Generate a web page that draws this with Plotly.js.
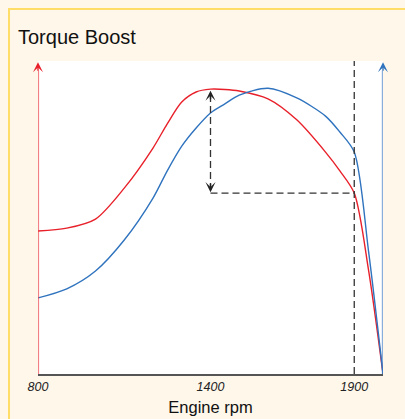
<!DOCTYPE html>
<html>
<head>
<meta charset="utf-8">
<script src="https://cdn.plot.ly/plotly-3.0.1.min.js"></script>
<style>html,body{margin:0;padding:0;background:#FEF7EA;}#chart{width:405px;height:419px;}</style>
</head>
<body>
<div id="chart"></div>
<script>
// Data
const rpm    = [800, 900, 1000, 1100, 1200, 1250, 1300, 1350, 1400, 1450, 1500, 1600, 1700, 1800, 1850, 1900, 1950, 2000];
const torque = [45.7, 46.6, 49.5, 59.4, 72.2, 80.0, 86.9, 90.1, 91.0, 90.9, 90.4, 87.9, 81.2, 70.9, 64.9, 57.8, 33.0, 0];
const power  = [24.3, 27.2, 32.9, 42.8, 56.2, 65.0, 72.8, 78.6, 83.4, 86.3, 89.1, 91.3, 88.2, 82.4, 77.3, 70.9, 39.0, 0];
const tickVals = [800, 1400, 1900];
const tickText = ['800', '1400', '1900'];
const peakRpm = 1400;     // torque boost reference rpm
const markRpm = 1900;     // rated rpm marker

const FONT = 'Liberation Sans, Arial, Helvetica, sans-serif';
const RED = '#E8202A', BLUE = '#2F73BE', DASH = '#333333';

const peakVal = torque[rpm.indexOf(peakRpm)];
const markVal = torque[rpm.indexOf(markRpm)];

const traces = [
  {x: rpm, y: torque, type: 'scatter', mode: 'lines', line: {color: RED, width: 1.4, shape: 'spline', smoothing: 0.8}, hoverinfo: 'skip', cliponaxis: false},
  {x: rpm, y: power, type: 'scatter', mode: 'lines', line: {color: BLUE, width: 1.4, shape: 'spline', smoothing: 0.8}, hoverinfo: 'skip', cliponaxis: false}
];

const shapes = [
  // outer frame
  {type: 'rect', xref: 'paper', yref: 'paper', x0: -0.084, x1: 1.3, y0: -0.3, y1: 1.166, line: {color: '#FFDD66', width: 2}, layer: 'below'},
  // left (torque) axis line
  {type: 'line', xref: 'x', yref: 'y', x0: 800, x1: 800, y0: 0, y1: 97, line: {color: 'rgba(236,60,70,0.65)', width: 2.2}},
  // right (power) axis line
  {type: 'line', xref: 'x', yref: 'y', x0: 2000, x1: 2000, y0: 0, y1: 97, line: {color: 'rgba(60,120,195,0.6)', width: 2.4}},
  // vertical dashed at marker rpm
  {type: 'line', xref: 'x', yref: 'y', x0: markRpm, x1: markRpm, y0: 0, y1: 100, line: {color: DASH, width: 1.3, dash: '7px,4px'}},
  // horizontal dashed
  {type: 'line', xref: 'x', yref: 'y', x0: peakRpm, x1: markRpm, y0: markVal, y1: markVal, line: {color: DASH, width: 1.3, dash: '7px,4px'}},
  // vertical dashed double arrow shaft
  {type: 'line', xref: 'x', yref: 'y', x0: peakRpm, x1: peakRpm, y0: markVal + 1, y1: peakVal - 1, line: {color: DASH, width: 1.3, dash: '7px,4px'}}
];

function head(x, y, ay, color) {
  return {x: x, y: y, xref: 'x', yref: 'y', ax: 0, ay: ay, text: '', showarrow: true,
          arrowhead: 3, arrowsize: 1.2, arrowwidth: 1.4, arrowcolor: color};
}

const annotations = [
  head(800, 99.6, 10, RED),
  head(2000, 99.6, 10, BLUE),
  head(peakRpm, peakVal - 0.5, 10, '#222'),
  head(peakRpm, markVal + 0.3, -10, '#222')
];

const layout = {
  width: 405, height: 419,
  margin: {l: 38, r: 22, t: 61, b: 45, pad: 0},
  paper_bgcolor: '#FEF7EA',
  plot_bgcolor: '#FFFFFF',
  showlegend: false,
  font: {family: FONT, color: '#111'},
  title: {text: 'Torque Boost', x: 18/405, xanchor: 'left', xref: 'container', yref: 'container', y: 1 - 37/419, yanchor: 'middle', font: {family: FONT, size: 20, color: '#111'}},
  xaxis: {
    range: [800, 2000], showgrid: false, zeroline: false,
    showline: true, linecolor: '#555', linewidth: 2,
    ticks: '', tickvals: tickVals, ticktext: tickText,
    tickfont: {family: FONT, size: 12.5, color: '#222', style: 'italic'},
    title: {text: 'Engine rpm', font: {family: FONT, size: 16.5, color: '#111'}, standoff: 8},
    fixedrange: true
  },
  yaxis: {range: [0, 100], showgrid: false, zeroline: false, showline: false, showticklabels: false, ticks: '', fixedrange: true},
  shapes: shapes,
  annotations: annotations
};

Plotly.newPlot('chart', traces, layout, {staticPlot: true, displayModeBar: false});
</script>
</body>
</html>
